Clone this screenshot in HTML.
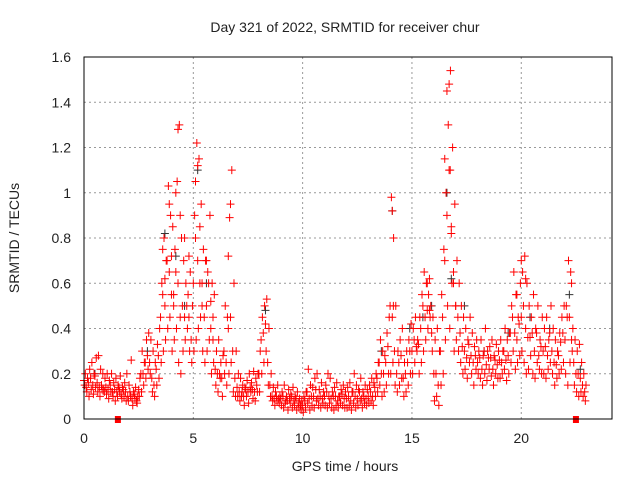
<!DOCTYPE html>
<html><head><meta charset="utf-8"><style>
body{margin:0;background:#fff;}
svg text{font-family:"Liberation Sans",sans-serif;font-size:14px;fill:#222;}
</style></head><body>
<svg id="c" width="640" height="480">
<rect width="640" height="480" fill="#fff"/>
<text x="345" y="32" text-anchor="middle">Day 321 of 2022, SRMTID for receiver chur</text>
<text x="345" y="471" text-anchor="middle">GPS time / hours</text>
<text transform="translate(19,238) rotate(-90)" text-anchor="middle">SRMTID / TECUs</text>
<g id="grid"></g>
<g id="ticks"></g>
<g id="marks"></g>
<rect x="84" y="57" width="528" height="362" fill="none" stroke="#000" stroke-width="1"/>
</svg>
<script>
const xTicks=[0,5,10,15,20];
const yTicks=[0,0.2,0.4,0.6,0.8,1,1.2,1.4,1.6];
const yTickLabels=["0","0.2","0.4","0.6","0.8","1","1.2","1.4","1.6"];
const startHour=0, stepHour=0.1;
const lowVals=[.15,.12,.10,.13,.11,.14,.12,.10,.13,.12,.11,.09,.12,.1,.08,.1,.12,.09,.1,.08,.08,.1,.06,.09,.07,.1,.12,.15,.18,.22,.2,.12,.1,.15,.18,.25,.3,.35,.4,.45,.3,.35,.4,.25,.2,.3,.35,.4,.3,.25,.3,.35,.4,.45,.3,.25,.3,.35,.2,.25,.15,.12,.18,.1,.2,.15,.2,.25,.12,.1,.1,.08,.12,.06,.1,.07,.12,.09,.08,.12,.12,.2,.25,.3,.15,.1,.08,.06,.08,.07,.06,.05,.08,.04,.07,.05,.06,.04,.05,.04,.03,.05,.07,.04,.06,.05,.08,.06,.05,.07,.06,.05,.07,.05,.04,.06,.05,.07,.06,.05,.05,.06,.04,.07,.05,.06,.08,.05,.07,.06,.07,.08,.06,.1,.12,.15,.1,.12,.15,.2,.2,.25,.15,.12,.15,.18,.1,.12,.15,.2,.2,.25,.3,.2,.25,.3,.35,.4,.45,.3,.08,.1,.06,.15,.2,.35,.5,.4,.6,.3,.35,.3,.25,.2,.22,.18,.25,.2,.15,.22,.2,.18,.15,.2,.17,.22,.19,.15,.2,.18,.18,.2,.22,.17,.2,.25,.3,.22,.25,.28,.3,.25,.2,.22,.28,.2,.18,.25,.22,.2,.2,.18,.22,.25,.2,.15,.18,.2,.22,.25,.2,.15,.25,.3,.15,.12,.1,.12,.1,.08];
const highVals=[.2,.18,.22,.25,.2,.27,.28,.22,.2,.18,.2,.17,.2,.16,.18,.15,.19,.14,.16,.2,.15,.26,.12,.14,.1,.18,.3,.25,.35,.38,.35,.3,.25,.33,.4,.6,.8,.7,1.03,.9,.85,.75,1.05,1.3,.8,.7,.6,.55,.65,.5,.9,1.22,1.15,.95,.75,.7,.65,.9,.6,.55,.3,.35,.25,.28,.5,.45,.89,1.1,.6,.3,.2,.18,.15,.14,.17,.2,.16,.21,.18,.2,.3,.45,.5,.53,.4,.2,.14,.12,.15,.1,.12,.15,.1,.13,.11,.14,.1,.12,.09,.08,.1,.12,.22,.15,.14,.18,.2,.13,.16,.12,.15,.2,.18,.12,.14,.16,.1,.13,.15,.12,.14,.16,.12,.2,.15,.13,.18,.12,.15,.13,.15,.18,.16,.2,.25,.35,.3,.28,.38,.45,.98,.8,.5,.3,.35,.4,.25,.3,.35,.42,.4,.45,.35,.45,.55,.65,.6,.55,.5,.45,.35,.4,.3,.55,.75,1.0,1.3,1.54,1.2,.95,.7,.6,.5,.45,.4,.35,.45,.38,.32,.35,.3,.35,.28,.4,.3,.32,.35,.28,.33,.3,.35,.3,.4,.35,.38,.5,.65,.55,.45,.6,.65,.72,.6,.5,.45,.55,.4,.5,.35,.45,.4,.45,.35,.5,.4,.35,.3,.38,.45,.5,.5,.7,.65,.4,.35,.3,.33,.25,.2,.15];
const midVals=[.17,.14,.16,.18,.15,.19,.16,.14,.15,.13,.14,.13,.15,.12,.13,.12,.14,.11,.13,.12,.1,.12,.09,.11,.08,.13,.2,.2,.25,.28,.25,.18,.15,.22,.28,.45,.55,.5,.7,.65,.55,.5,.65,.6,.45,.5,.45,.5,.45,.35,.6,.8,.7,.6,.5,.45,.5,.6,.4,.35,.22,.2,.2,.18,.3,.25,.4,.45,.3,.18,.14,.12,.1,.1,.13,.12,.14,.13,.12,.15,.2,.35,.38,.42,.25,.15,.1,.09,.1,.09,.09,.1,.07,.08,.09,.1,.08,.09,.07,.06,.06,.08,.12,.09,.1,.1,.13,.09,.1,.09,.1,.12,.1,.09,.1,.1,.08,.1,.11,.09,.09,.1,.08,.12,.1,.09,.12,.09,.1,.09,.1,.12,.1,.14,.18,.25,.2,.2,.25,.32,.5,.45,.3,.2,.25,.28,.18,.2,.25,.3,.3,.35,.32,.33,.4,.5,.45,.48,.48,.38,.2,.2,.15,.3,.45,.7,.9,1.1,.85,.6,.5,.45,.38,.32,.3,.27,.33,.28,.25,.28,.25,.27,.22,.3,.24,.27,.27,.22,.26,.24,.26,.25,.3,.26,.28,.38,.45,.38,.35,.42,.45,.5,.4,.36,.36,.38,.3,.38,.28,.32,.3,.32,.28,.38,.3,.25,.24,.28,.34,.38,.35,.45,.45,.35,.25,.2,.2,.18,.15,.12];
const extraHours=[3.6,3.7,3.9,4.0,4.1,4.2,4.3,4.4,4.6,4.8,5.1,5.2,5.3,5.4,5.6,5.8,5.9,6.6,6.7,14.1,14.15,15.7,15.8,16.5,16.6,16.7,16.75,16.8,16.9,17.0,19.8,20.0,20.2,22.3];
const extraVals=[.75,.62,.95,.72,.55,1.0,1.28,.9,.8,.72,1.05,1.12,.85,.6,.7,.52,.45,.72,.95,.92,.5,.6,.62,1.15,1.45,1.48,1.1,.82,.65,.5,.55,.7,.62,.6];
const blackHours=[0.5,2.9,3.7,4.2,4.6,5.2,5.6,8.3,13.6,14.1,14.9,15.5,15.9,16.6,16.8,17.4,18.3,19.4,20.4,21.3,22.2,22.7];
const blackVals=[.2,.3,.82,.72,.5,1.1,.6,.48,.3,.92,.4,.45,.5,1.0,.62,.5,.3,.38,.45,.4,.55,.22];
const gapHours=[1.55,22.5];

const X0=84,X1=612,Y0=419,Y1=57,XMAX=24.15,YMAX=1.6;
const xs=h=>X0+h/XMAX*(X1-X0);
const ys=v=>Y0-v/YMAX*(Y0-Y1);
const NS="http://www.w3.org/2000/svg";
const grid=document.getElementById('grid'),ticks=document.getElementById('ticks'),marks=document.getElementById('marks');
function mk(tag,attrs,parent){const e=document.createElementNS(NS,tag);for(const k in attrs)e.setAttribute(k,attrs[k]);parent.appendChild(e);return e;}
xTicks.forEach(t=>{
  const x=xs(t);
  if(t>0){const g=mk('line',{x1:x,x2:x,y1:Y1,y2:Y0,stroke:'#999','stroke-dasharray':'2,3'},grid);
  
  }
  const l=mk('text',{x:x,y:443,'text-anchor':'middle'},ticks);l.textContent=t;
  
  
});
yTicks.forEach((t,i)=>{
  const y=ys(t);
  if(i>0&&i<yTicks.length-1){const g=mk('line',{x1:X0,x2:X1,y1:y,y2:y,stroke:'#999','stroke-dasharray':'2,3'},grid);
  
  }
  const l=mk('text',{x:71,y:y+5,'text-anchor':'end'},ticks);l.textContent=yTickLabels[i];
  
  
});
function plus(h,v,color){
  const x=xs(h),y=ys(v);
  const p=mk('path',{d:`M${x-4},${y}H${x+4}M${x},${y-4}V${y+4}`,stroke:color,'stroke-width':1},marks);
  
  
}
blackHours.forEach((h,i)=>plus(h,blackVals[i],'#333'));
[midVals,lowVals,highVals].forEach((arr,k)=>{
  arr.forEach((v,i)=>plus(startHour+i*stepHour+k*0.03,v,'#f00'));
});
extraHours.forEach((h,i)=>plus(h,extraVals[i],'#f00'));
gapHours.forEach(h=>{
  const r=mk('rect',{x:xs(h)-3,y:416,width:6,height:7,fill:'#f00'},marks);
  
  
});
</script>
</body></html>
